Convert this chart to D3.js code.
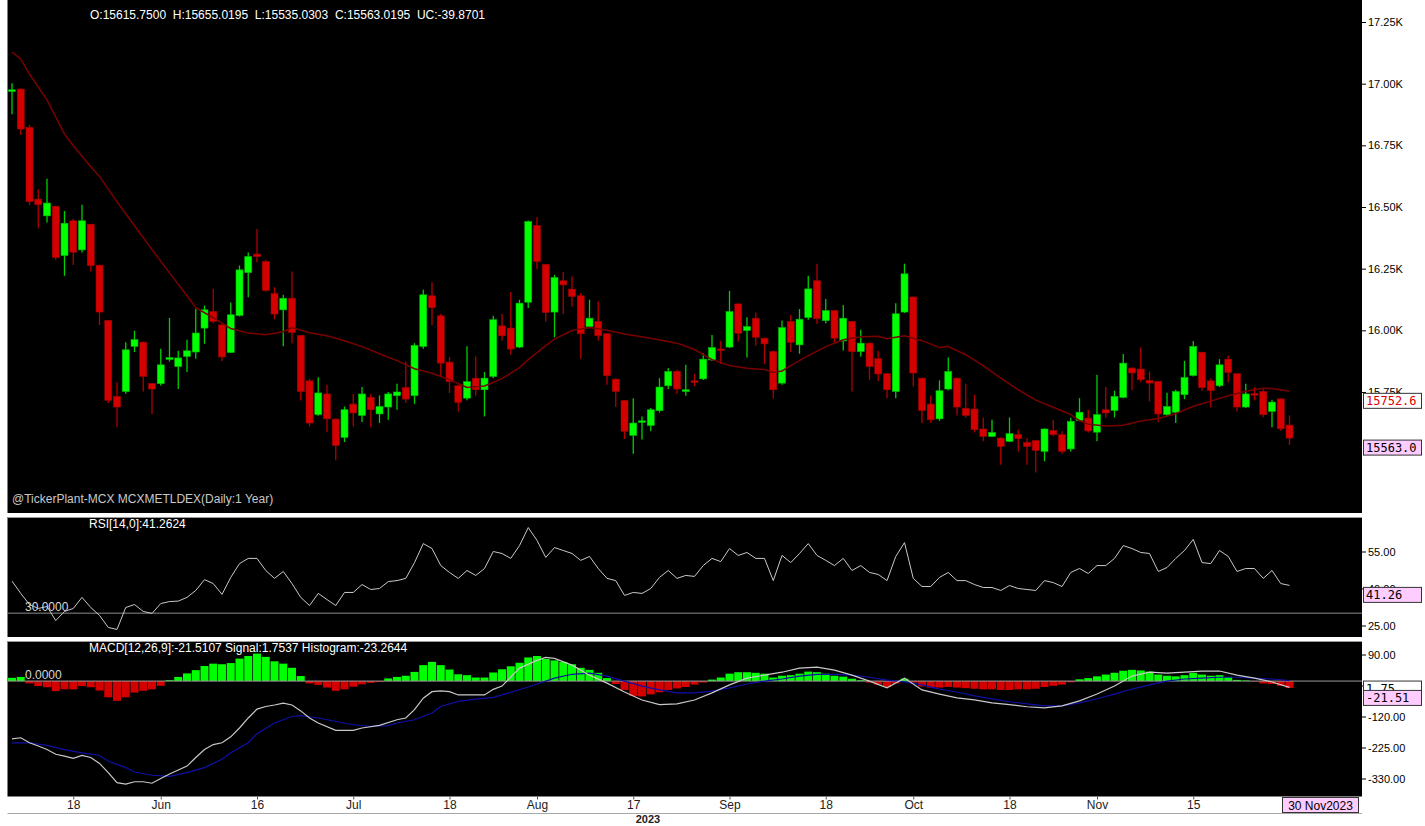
<!DOCTYPE html>
<html>
<head>
<meta charset="utf-8">
<script src="https://d3js.org/d3.v7.min.js"></script>
<style>
  body { margin: 0; background: #fff; }
  svg { display: block; font-family: Arial, "Liberation Sans", sans-serif; }
  .narrow { font-family: "Liberation Sans Narrow", "Arial Narrow", Arial, sans-serif; }
</style>
</head>
<body>
<svg id="chart" width="1425" height="826"></svg>
<script>
// ---- data ----
const firstDay = "2023-05-09";
const lastDay = "2023-11-30";
const holidays = ["2023-08-15", "2023-10-02"];
const specialSessions = ["2023-11-12"]; // muhurat trading (Sunday)

// [open, high, low, close]
const candles = [
  [16968,17002,16876,16975],[16978,16980,16792,16816],[16823,16833,16508,16522],[16532,16572,16414,16509],
  [16464,16614,16437,16516],[16503,16505,16286,16295],[16303,16484,16221,16434],[16444,16452,16265,16317],
  [16326,16509,16315,16444],[16430,16432,16238,16263],[16264,16266,16022,16074],[16040,16042,15705,15716],
  [15732,15789,15607,15689],[15752,15952,15743,15921],[15935,15998,15912,15962],[15952,15955,15752,15813],
  [15784,15786,15661,15762],[15784,15925,15776,15860],[15882,16050,15874,15889],[15853,15917,15762,15888],
  [15894,15962,15831,15917],[15912,16087,15885,15989],[16009,16101,15946,16083],[16076,16168,16029,16036],
  [16022,16024,15876,15892],[15910,16113,15908,16063],[16060,16263,16056,16245],[16234,16315,16134,16299],
  [16309,16411,16276,16299],[16279,16286,16157,16161],[16149,16175,16045,16066],[16083,16144,15935,16130],
  [16130,16238,15948,15991],[15979,15980,15715,15752],[15795,15803,15610,15624],[15658,15810,15654,15746],
  [15742,15779,15587,15641],[15640,15642,15473,15533],[15566,15691,15547,15678],[15701,15742,15610,15665],
  [15655,15770,15628,15742],[15728,15742,15607,15678],[15661,15736,15624,15691],[15689,15750,15637,15742],
  [15735,15783,15678,15750],[15768,15874,15705,15721],[15735,15948,15702,15939],[15935,16164,15925,16144],
  [16140,16195,16022,16092],[16059,16066,15813,15867],[15871,15891,15746,15792],[15775,15780,15671,15708],
  [15725,15935,15716,15792],[15806,15894,15735,15759],[15759,15831,15651,15806],[15813,16059,15806,16043],
  [16018,16067,15958,15978],[16009,16155,15901,15924],[15932,16124,15928,16110],[16114,16445,16090,16441],
  [16425,16459,16248,16279],[16267,16268,16036,16072],[16074,16225,15972,16214],[16201,16236,16066,16184],
  [16167,16218,16096,16137],[16140,16151,15885,15986],[16015,16124,16009,16049],[16036,16117,15958,15978],
  [15986,15988,15779,15816],[15802,15806,15689,15752],[15715,15717,15559,15591],[15574,15725,15500,15624],
  [15629,15651,15557,15633],[15614,15685,15591,15678],[15674,15806,15667,15770],[15775,15847,15762,15833],
  [15833,15840,15743,15762],[15752,15860,15735,15759],[15795,15823,15773,15790],[15803,15907,15799,15883],
  [15880,15981,15876,15930],[15924,15957,15863,15918],[15932,16160,15928,16076],[16107,16110,15955,15988],
  [15999,16053,15890,16015],[16049,16072,15937,15972],[15968,15970,15863,15945],[15914,15918,15725,15759],
  [15786,16040,15779,16011],[16036,16063,15912,15951],[15941,16086,15905,16045],[16052,16221,16043,16168],
  [16201,16270,16026,16047],[16039,16127,16029,16080],[16080,16082,15948,15968],[15957,16103,15918,16049],
  [16036,16038,15752,15914],[15914,16002,15894,15948],[15948,15950,15799,15853],[15885,15917,15795,15823],
  [15824,15826,15725,15759],[15752,16110,15725,16067],[16074,16270,16070,16229],[16135,16137,15772,15827],
  [15806,15808,15624,15675],[15701,15736,15624,15637],[15641,15797,15633,15755],[15762,15890,15757,15833],
  [15806,15808,15655,15689],[15684,15783,15647,15655],[15681,15739,15586,15597],[15600,15647,15550,15570],
  [15570,15637,15567,15586],[15563,15565,15455,15529],[15550,15647,15547,15581],[15577,15597,15509,15561],
  [15545,15563,15455,15529],[15553,15555,15424,15513],[15509,15602,15469,15600],[15594,15637,15570,15577],
  [15577,15591,15500,15509],[15519,15645,15509,15631],[15635,15725,15631,15668],[15644,15678,15586,15592],
  [15587,15820,15550,15658],[15678,15770,15647,15665],[15675,15755,15647,15732],[15728,15904,15725,15867],
  [15847,15850,15757,15827],[15843,15930,15789,15800],[15797,15833,15712,15786],[15793,15795,15628,15661],
  [15658,15747,15651,15691],[15668,15759,15624,15752],[15739,15876,15721,15809],[15817,15957,15813,15935],
  [15911,15913,15755,15768],[15795,15806,15687,15756],[15775,15883,15770,15860],[15883,15897,15789,15829],
  [15824,15826,15671,15689],[15689,15783,15685,15742],[15743,15770,15716,15739],[15752,15761,15648,15658],
  [15671,15718,15607,15709],[15722,15724,15593,15601],[15615.75,15655.02,15535.03,15563.02]
];

// moving average, sampled at [candle index, value]
const maPoints = [
  [0,17128],[1,17100],[2,17039],[4,16934],[6,16796],[7,16748],[9,16663],[10,16624],[12,16521],[14,16424],
  [16,16327],[18,16233],[20,16140],[21,16092],[23,16051],[25,16007],[27,15989],[29,15982],[31,15994],[32,16011],
  [34,15990],[36,15978],[38,15958],[40,15934],[42,15905],[44,15877],[46,15844],[48,15826],[50,15800],[52,15768],
  [54,15774],[56,15804],[58,15849],[59,15881],[61,15938],[62,15964],[64,15999],[66,16011],[68,16000],[70,15985],
  [73,15968],[76,15948],[78,15922],[80,15881],[82,15857],[84,15846],[86,15841],[87,15829],[88,15835],[89,15857],
  [91,15897],[93,15934],[95,15962],[97,15974],[99,15976],[100,15966],[102,15978],[104,15958],[106,15930],[107,15934],
  [109,15901],[111,15857],[113,15806],[115,15759],[117,15717],[119,15688],[121,15658],[122,15634],[123,15619],[125,15612],
  [127,15615],[129,15632],[131,15642],[133,15662],[135,15692],[137,15713],[139,15735],[141,15753],[143,15765],[144,15764],
  [146,15752.6]
];

const rsiValues = [
  43.0,38.0,33.5,31.9,32.7,27.0,30.7,31.9,36.4,32.3,29.1,24.2,23.4,32.3,33.5,30.7,29.9,33.9,34.7,34.9,
  36.4,39.2,43.6,42.0,37.6,44.5,50.1,52.2,52.2,47.3,44.1,46.9,42.0,36.4,33.1,38.0,35.5,33.1,38.4,38.4,
  41.6,39.6,40.0,42.8,43.2,44.1,50.5,58.2,56.2,49.3,46.5,44.1,47.3,45.3,48.1,55.0,54.2,52.2,57.4,64.7,
  59.5,52.6,56.6,55.4,54.2,51.4,53.0,48.1,44.1,43.2,37.2,38.4,38.0,40.0,44.5,47.3,44.1,45.3,44.9,49.3,
  52.2,50.9,56.2,53.4,54.6,52.2,52.2,43.2,53.4,50.5,54.2,58.2,53.4,51.4,49.3,52.2,47.3,49.3,46.5,45.7,
  43.2,53.0,58.6,44.1,40.8,40.8,44.5,46.5,43.2,43.2,41.6,40.4,40.4,39.2,41.2,40.0,39.6,39.2,43.2,42.4,
  40.8,46.5,48.1,46.1,49.3,49.3,52.2,57.4,56.2,54.6,54.2,46.9,48.5,52.2,55.4,59.9,50.5,50.1,55.4,53.0,
  46.9,48.1,48.1,44.1,47.3,42.0,41.26
];
const rsiLevel = 30;

const macdPoints = [
  [0,-196],[1,-192],[2,-209],[3,-220],[4,-232],[5,-248],[6,-254],[7,-262],[8,-252],[9,-259],[10,-279],[11,-310],
  [12,-344],[13,-349],[14,-341],[15,-341],[16,-346],[17,-330],[18,-315],[20,-288],[21,-259],[22,-232],[23,-215],
  [24,-209],[25,-189],[26,-159],[27,-125],[28,-95],[29,-86],[30,-81],[31,-75],[32,-81],[33,-101],[34,-125],
  [35,-142],[37,-167],[39,-167],[40,-159],[42,-150],[44,-131],[45,-125],[46,-97],[47,-58],[48,-36],[49,-33],
  [50,-36],[51,-47],[53,-47],[54,-47],[55,-28],[56,-17],[58,44],[60,70],[61,80],[62,77],[64,54],[66,20],[68,-7],
  [70,-37],[72,-64],[74,-80],[76,-77],[78,-64],[80,-40],[82,-13],[84,10],[86,20],[88,30],[90,44],[92,47],[94,37],
  [96,20],[98,0],[100,-23],[102,10],[104,-30],[106,-44],[108,-57],[110,-64],[112,-74],[114,-80],[116,-87],
  [118,-91],[120,-84],[122,-67],[124,-44],[126,-17],[128,17],[130,30],[132,27],[134,30],[136,34],[138,34],
  [140,20],[142,10],[144,-3],[146,-21.51]
];
const signalPoints = [
  [0,-209],[2,-209],[4,-218],[6,-232],[8,-243],[10,-252],[11,-271],[13,-293],[14,-308],[16,-319],[18,-323],
  [20,-310],[22,-293],[24,-265],[25,-243],[27,-209],[28,-178],[30,-142],[32,-120],[33,-117],[35,-125],[37,-137],
  [39,-148],[41,-153],[43,-151],[44,-142],[46,-131],[48,-108],[49,-86],[51,-69],[53,-61],[55,-55],[56,-47],
  [59,-20],[62,10],[64,23],[66,27],[68,17],[70,0],[72,-17],[74,-30],[76,-40],[78,-40],[80,-34],[82,-23],
  [84,-10],[86,0],[88,7],[90,17],[92,23],[94,23],[96,20],[98,13],[100,3],[102,-3],[104,-13],[106,-27],
  [108,-37],[110,-50],[112,-60],[114,-70],[116,-77],[118,-84],[120,-84],[122,-74],[124,-60],[126,-44],
  [128,-27],[130,-13],[132,0],[134,7],[136,10],[138,13],[140,13],[142,10],[144,7],[146,1.75]
];
const histValues = [
  11,14,-8,-17,-21,-34,-28,-28,-17,-21,-32,-55,-67,-55,-39,-33,-28,-16,3,14,
  26,37,51,59,57,61,76,85,93,82,67,59,45,17,-8,-13,-22,-33,-28,-19,
  -11,-6,-3,9,14,18,31,54,65,54,39,23,20,12,12,29,40,50,62,80,
  85,75,70,65,57,45,38,28,10,-10,-30,-50,-52,-45,-38,-30,-25,-20,-12,-5,
  5,12,25,30,30,28,25,12,18,20,25,32,30,25,18,15,8,3,-5,-12,
  -20,-8,8,-5,-18,-22,-22,-20,-22,-24,-26,-28,-28,-30,-30,-28,-28,-26,-20,-16,
  -12,-4,6,10,16,22,28,35,38,36,32,22,18,16,20,28,22,18,20,14,
  4,2,-2,-8,-10,-16,-23.26
];

const priceTicks = [15750, 16000, 16250, 16500, 16750, 17000, 17250];
const rsiTicks = [25, 40, 55];
const macdTicks = [90, -15, -120, -225, -330];
const dateTicks = [
  ["2023-05-18","18"],["2023-06-01","Jun"],["2023-06-16","16"],["2023-07-03","Jul"],["2023-07-18","18"],
  ["2023-08-01","Aug"],["2023-08-17","17"],["2023-09-01","Sep"],["2023-09-18","18"],["2023-10-03","Oct"],
  ["2023-10-18","18"],["2023-11-01","Nov"],["2023-11-15","15"]
];

const headerText = "O:15615.7500  H:15655.0195  L:15535.0303  C:15563.0195  UC:-39.8701";
const rsiText = "RSI[14,0]:41.2624";
const macdText = "MACD[12,26,9]:-21.5107 Signal:1.7537 Histogram:-23.2644";
const sourceText = "@TickerPlant-MCX MCXMETLDEX(Daily:1 Year)";

// ---- layout ----
const svg = d3.select("#chart");
const plotL = 7.5, plotR = 1362;
const panels = {
  main: { top: 0, bottom: 513 },
  rsi: { top: 517, bottom: 637 },
  macd: { top: 641, bottom: 796.5 }
};
const green = "#00ff00", red = "#d40000";

// trading days
const fmt = d3.utcFormat("%Y-%m-%d");
const days = d3.utcDay.range(new Date(firstDay), d3.utcDay.offset(new Date(lastDay), 1))
  .map(fmt)
  .filter(s => {
    const wd = new Date(s).getUTCDay();
    return (wd > 0 && wd < 6 && !holidays.includes(s)) || specialSessions.includes(s);
  });

const x = d3.scalePoint().domain(days).range([12, 1289.5]);
const step = x.step();
const yP = d3.scaleLinear().domain([15250, 17250]).range([515.3, 22]);
const yR = d3.scaleLinear().domain([25, 55]).range([625.5, 551.5]);
const yM = d3.scaleLinear().domain([-330, 90]).range([778.5, 654.5]);

// panel backgrounds + clips
Object.entries(panels).forEach(([k, p]) => {
  svg.append("rect").attr("x", plotL).attr("y", p.top)
    .attr("width", plotR - plotL).attr("height", p.bottom - p.top).attr("fill", "#000");
  svg.append("clipPath").attr("id", "clip-" + k).append("rect")
    .attr("x", plotL).attr("y", p.top).attr("width", plotR - plotL).attr("height", p.bottom - p.top);
});
[panels.rsi.top + 0.5, panels.macd.top + 0.5].forEach(y => {
  svg.append("line").attr("x1", plotL).attr("x2", plotR).attr("y1", y).attr("y2", y)
    .attr("stroke", "#9a9a9a").attr("stroke-width", 1);
});

// ---- main panel: candles + MA ----
const gMain = svg.append("g").attr("clip-path", "url(#clip-main)");
const bodyW = 7;
const cg = gMain.selectAll(".candle").data(candles).enter().append("g").attr("class", "candle");
cg.append("line")
  .attr("x1", (d, i) => x(days[i])).attr("x2", (d, i) => x(days[i]))
  .attr("y1", d => yP(d[1])).attr("y2", d => yP(d[2]))
  .attr("stroke", d => d[3] >= d[0] ? "#00d000" : "#b00000").attr("stroke-width", 1.3);
cg.append("rect")
  .attr("x", (d, i) => x(days[i]) - bodyW / 2)
  .attr("y", d => yP(Math.max(d[0], d[3])))
  .attr("width", bodyW)
  .attr("height", d => Math.max(1.5, Math.abs(yP(d[0]) - yP(d[3]))))
  .attr("fill", d => d[3] >= d[0] ? green : red)
  .attr("stroke", d => d[3] >= d[0] ? "#00b800" : "#a00000").attr("stroke-width", 0.6);

const maLine = d3.line().x(d => x(days[d[0]])).y(d => yP(d[1]));
gMain.append("path").datum(maPoints).attr("d", maLine)
  .attr("fill", "none").attr("stroke", "#7a0000").attr("stroke-width", 1.5);

// ---- RSI panel ----
const gRsi = svg.append("g").attr("clip-path", "url(#clip-rsi)");
gRsi.append("line").attr("x1", plotL).attr("x2", plotR)
  .attr("y1", yR(rsiLevel)).attr("y2", yR(rsiLevel)).attr("stroke", "#8c8c8c").attr("stroke-width", 1);
gRsi.append("path").datum(rsiValues)
  .attr("d", d3.line().x((d, i) => x(days[i])).y(d => yR(d)))
  .attr("fill", "none").attr("stroke", "#c8c8c8").attr("stroke-width", 1);

// ---- MACD panel ----
const gMacd = svg.append("g").attr("clip-path", "url(#clip-macd)");
gMacd.selectAll(".hist").data(histValues).enter().append("rect")
  .attr("x", (d, i) => x(days[i]) - step / 2 + 0.4)
  .attr("width", step - 0.8)
  .attr("y", d => Math.min(yM(0), yM(d)))
  .attr("height", d => Math.abs(yM(d) - yM(0)))
  .attr("fill", d => d >= 0 ? green : red);
gMacd.append("line").attr("x1", plotL).attr("x2", plotR)
  .attr("y1", yM(0)).attr("y2", yM(0)).attr("stroke", "#9a9a9a").attr("stroke-width", 1);
const ptLine = d3.line().x(d => x(days[d[0]])).y(d => yM(d[1]));
gMacd.append("path").datum(signalPoints).attr("d", ptLine)
  .attr("fill", "none").attr("stroke", "#1010a8").attr("stroke-width", 1.2);
gMacd.append("path").datum(macdPoints).attr("d", ptLine)
  .attr("fill", "none").attr("stroke", "#c8c8c8").attr("stroke-width", 1.2);

// ---- texts inside panels ----
function label(txt, xx, yy, color, size) {
  svg.append("text").attr("x", xx).attr("y", yy).attr("fill", color)
    .attr("font-size", size || 12).style("white-space", "pre").text(txt);
}
label(headerText, 90, 19, "#ffffff");
label(sourceText, 12, 503, "#c8c8c8");
label(rsiText, 89, 528, "#ffffff");
label("30.0000", 25, yR(rsiLevel) - 2, "#d8d8d8");
label(macdText, 89, 652, "#ffffff");
label("0.0000", 25, yM(0) - 2, "#d8d8d8");

// ---- right axes ----
function rightAxis(scale, ticks, fmtFn) {
  const g = svg.append("g").attr("transform", `translate(${plotR},0)`)
    .call(d3.axisRight(scale).tickValues(ticks).tickSize(4).tickPadding(2).tickFormat(fmtFn));
  g.select(".domain").remove();
  g.selectAll("text").attr("fill", "#000").attr("font-size", 11)
    .attr("font-family", "Arial, 'Liberation Sans', sans-serif");
  g.selectAll("line").attr("stroke", "#000");
}
rightAxis(yP, priceTicks, d => (d / 1000).toFixed(2) + "K");
rightAxis(yR, rsiTicks, d => d.toFixed(2));
rightAxis(yM, macdTicks, d => d.toFixed(2));

function valueBox(yy, txt, fill, color) {
  svg.append("rect").attr("x", plotR + 1.5).attr("y", yy + 2).attr("width", 58).attr("height", 15)
    .attr("fill", fill).attr("stroke", "#333").attr("stroke-width", 1);
  svg.append("text").attr("x", plotR + 4).attr("y", yy + 14).attr("fill", color)
    .attr("font-size", 12).attr("font-family", "'DejaVu Sans Mono', monospace").text(txt);
}
const last = candles[candles.length - 1];
const lastMa = maPoints[maPoints.length - 1][1];
valueBox(yP(lastMa), lastMa.toFixed(1), "#ffffff", "#e00000");
valueBox(yP(last[3]), last[3].toFixed(1), "#ffccff", "#000");
valueBox(yR(rsiValues[rsiValues.length - 1]), rsiValues[rsiValues.length - 1].toFixed(2), "#ffccff", "#000");
const lastSig = signalPoints[signalPoints.length - 1][1];
const lastMacd = macdPoints[macdPoints.length - 1][1];
valueBox(yM(lastSig) - 1.5, lastSig.toFixed(2), "#ffffff", "#000");
valueBox(yM(lastMacd) + 1, lastMacd.toFixed(2), "#ffccff", "#000");

// ---- bottom date axis ----
const tickMap = new Map(dateTicks);
const gx = svg.append("g").attr("transform", `translate(0,${panels.macd.bottom})`)
  .call(d3.axisBottom(x).tickValues(dateTicks.map(d => d[0])).tickSize(3).tickPadding(1)
    .tickFormat(d => tickMap.get(d)));
gx.select(".domain").remove();
gx.selectAll("text").attr("class", "narrow").attr("fill", "#222").attr("font-size", 12);
gx.selectAll("line").attr("stroke", "#555");

svg.append("line").attr("x1", plotL).attr("x2", plotR).attr("y1", 813.5).attr("y2", 813.5)
  .attr("stroke", "#a8a8a8").attr("stroke-width", 1.2);
svg.append("text").attr("class", "narrow").attr("x", 648).attr("y", 823).attr("text-anchor", "middle")
  .attr("font-size", 11).attr("font-weight", "bold").attr("fill", "#222").text("2023");

// last date box
const lastDate = new Date(days[days.length - 1]);
svg.append("rect").attr("x", 1282.5).attr("y", 797.5).attr("width", 76).attr("height", 15)
  .attr("fill", "#ffccff").attr("stroke", "#333").attr("stroke-width", 1);
svg.append("text").attr("class", "narrow").attr("x", 1320.5).attr("y", 809.5).attr("text-anchor", "middle")
  .attr("font-size", 12).attr("fill", "#000").text(d3.utcFormat("%d %b%Y")(lastDate));
</script>
</body>
</html>
